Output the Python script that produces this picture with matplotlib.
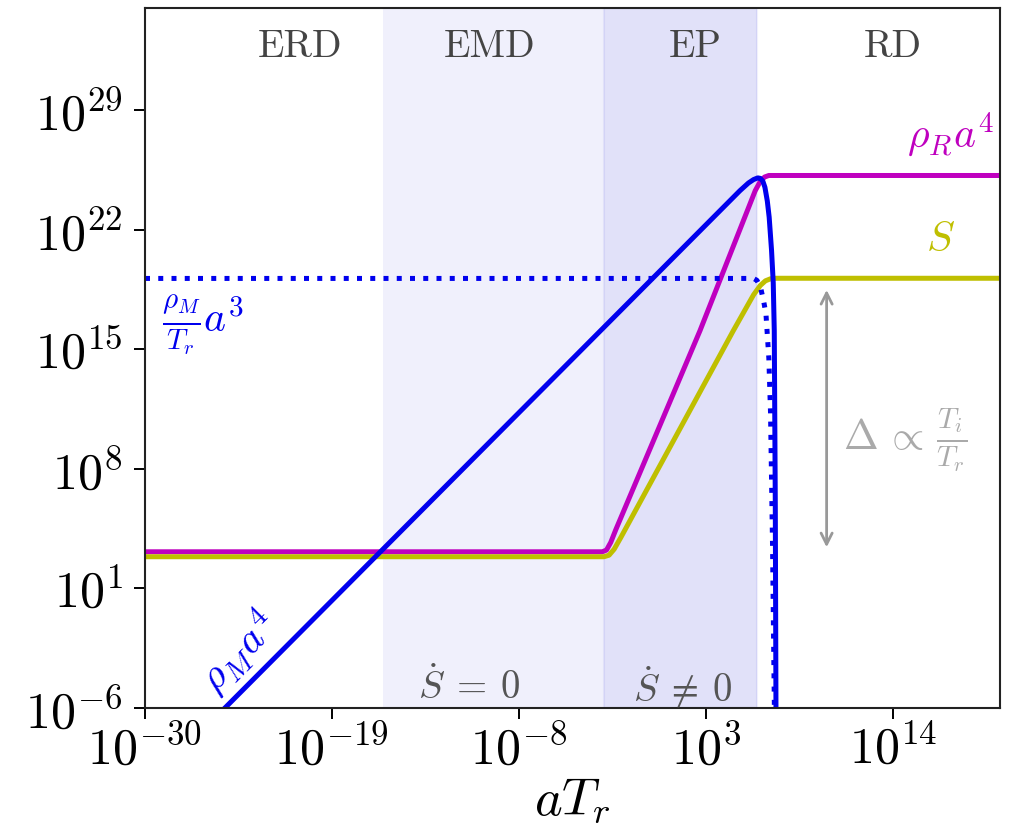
import matplotlib
matplotlib.use("Agg")
import matplotlib.pyplot as plt
import numpy as np

plt.rcParams["font.family"] = "serif"
plt.rcParams["font.serif"] = ["cmr10"]
plt.rcParams["mathtext.fontset"] = "cm"
plt.rcParams["axes.formatter.use_mathtext"] = True
plt.rcParams["axes.unicode_minus"] = False

# curves as (log10 aT_r, log10 value)
rhoM_loga = [-30, 5.0, 5.5, 5.8, 6.05, 6.2, 6.35, 6.47, 6.61, 6.72, 6.86, 6.96, 7.02, 7.08, 7.12, 7.16]
rhoM_logy = [-10.7, 24.3, 24.75, 24.95, 25.05, 25.02, 24.85, 24.5, 23.7, 22.75, 20.8, 18.9, 16.1, 6.0, -6.0, -14]

rhoMa3_loga = [-30, 5.8, 6.0, 6.21, 6.4, 6.53, 6.7, 6.8, 6.92, 6.98, 7.05]
rhoMa3_logy = [19.16, 19.16, 19.05, 18.65, 17.8, 17.1, 14.5, 11.3, 3.4, -2.0, -8.0]

rhoR_loga = [-30, -3.1, -2.85, -2.6, -2.3, 2.65, 5.9, 6.2, 6.45, 6.7, 20.3]
rhoR_logy = [3.15, 3.15, 3.25, 3.7, 4.45, 16.1, 24.3, 24.85, 25.1, 25.19, 25.19]

S_loga = [-30, -3.0, -2.7, -2.4, -2.0, 4.61, 5.8, 6.2, 6.5, 6.8, 7.1, 20.3]
S_logy = [2.86, 2.86, 2.95, 3.3, 4.0, 16.1, 18.2, 18.75, 19.02, 19.14, 19.17, 19.17]

# epochs
emd_start, ep_start, rd_start = 1e-16, 1e-3, 1e6
epoch_names = ["ERD", "EMD", "EP", "RD"]
epoch_x = [10**-20.9, 10**-9.7, 10**2.35, 10**14]

blue, mag, oli = "#0000ee", "#bf00bf", "#bfbf00"

fig = plt.figure(figsize=(10.13, 8.33), dpi=100)
ax = fig.add_axes([145 / 1013, 1 - 708 / 833, 855 / 1013, 700 / 833])

ax.axvspan(emd_start, rd_start, color="#0000cc", alpha=0.06, lw=0)
ax.axvspan(ep_start, rd_start, facecolor="#0000cc", alpha=0.06,
           edgecolor="#0000cc", lw=1.5)

p = lambda v: 10.0 ** np.array(v)
ax.plot(p(rhoR_loga), p(rhoR_logy), color=mag, lw=3.6, solid_capstyle="butt")
ax.plot(p(S_loga), p(S_logy), color=oli, lw=3.6, solid_capstyle="butt")
ax.plot(p(rhoMa3_loga), p(rhoMa3_logy), color=blue, lw=3.6, ls=":")
ax.plot(p(rhoM_loga), p(rhoM_logy), color=blue, lw=3.6, solid_capstyle="butt")

ax.set_xscale("log")
ax.set_yscale("log")
ax.set_xlim(1e-30, 10**20.3)
ax.set_ylim(1e-6, 1e35)
ax.set_xticks([1e-30, 1e-19, 1e-8, 1e3, 1e14])
ax.set_yticks([1e-6, 1e1, 1e8, 1e15, 1e22, 1e29])
ax.minorticks_off()
ax.tick_params(axis="both", labelsize=36, length=8, width=1.4, direction="out")
ax.tick_params(axis="y", pad=8)
ax.tick_params(axis="x", pad=4)
for s in ax.spines.values():
    s.set_linewidth(1.5)
    s.set_color("#222222")

ax.set_xlabel(r"$aT_r$", fontsize=38, labelpad=2)

for name, xc in zip(epoch_names, epoch_x):
    ax.text(xc, 10**32.7, name, fontsize=28, color="#444444", ha="center", va="center")
ax.text(10**-10.9, 10**-4.8, r"$\dot{S}\:=\:0$", fontsize=28, color="#555555", ha="center", va="center")
ax.text(10**1.6, 10**-4.8, r"$\dot{S}\:\neq\:0$", fontsize=28, color="#555555", ha="center", va="center")

ax.text(10**17.35, 10**27.6, r"$\rho_R a^4$", fontsize=30, color=mag, ha="center", va="center")
ax.text(10**16.8, 10**21.4, r"$S$", fontsize=30, color=oli, ha="center", va="center")
ax.text(10**-26.6, 10**16.4, r"$\frac{\rho_M}{T_r}a^3$", fontsize=30, color=blue, ha="center", va="center")
ax.text(10**-24.5, 10**-2.7, r"$\rho_M a^4$", fontsize=30, color=blue, ha="center", va="center",
        rotation=45, rotation_mode="anchor")

ax.annotate("", xy=(10**10.1, 10**18.65), xytext=(10**10.1, 10**3.25),
            arrowprops=dict(arrowstyle="<->", color="#999999", lw=2, mutation_scale=20))
ax.text(10**14.7, 10**9.7, r"$\Delta\,\propto\,\frac{T_i}{T_r}$", fontsize=30, color="#aaaaaa",
        ha="center", va="center")

fig.savefig("out.png", dpi=100)
